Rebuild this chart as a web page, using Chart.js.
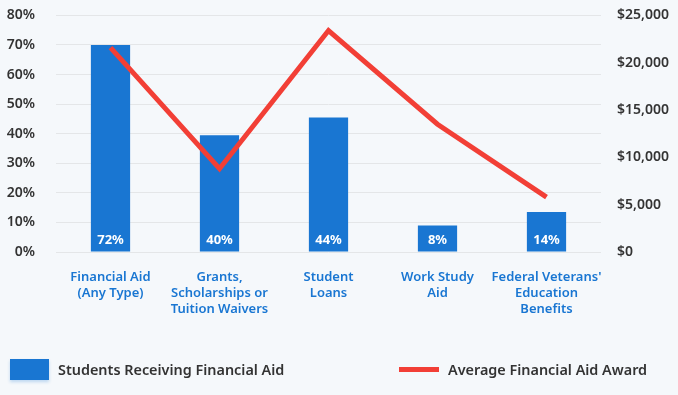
<!DOCTYPE html>
<html>
<head>
<meta charset="utf-8">
<script src="https://cdn.jsdelivr.net/npm/chart.js@4/dist/chart.umd.min.js"></script>
<style>
  html, body { margin: 0; padding: 0; background: #f5f8fb; overflow: hidden; }
  #wrap { position: relative; width: 678px; height: 395px; overflow: hidden; }
  #chart { position: absolute; left: 0; top: -14px; }
  #legend { position: absolute; left: 0; top: 357px; width: 678px; height: 26px;
    font-family: "Noto Sans", "Open Sans", sans-serif; font-weight: 600; font-size: 14.4px; color: #333; }
  .item { position: absolute; top: 0; display: flex; align-items: center; height: 24px; }
  .box { width: 39px; height: 21px; background: #1976d2; margin-right: 9px; box-shadow: 0 2px 3px rgba(25,118,210,0.25); }
  .ln { width: 40px; height: 5px; background: #f23f36; margin-right: 9px; }
</style>
</head>
<body>
<div id="wrap">
  <canvas id="chart" width="678" height="409"></canvas>
  <div id="legend">
    <div class="item" style="left:10px"><span class="box"></span>Students Receiving Financial Aid</div>
    <div class="item" style="left:399px"><span class="ln"></span>Average Financial Aid Award</div>
  </div>
</div>
<script>
// categories and values
const categories = [
  ['Financial Aid', '(Any Type)'],
  ['Grants,', 'Scholarships or', 'Tuition Waivers'],
  ['Student', 'Loans'],
  ['Work Study', 'Aid'],
  ["Federal Veterans'", 'Education', 'Benefits']
];
const studentsPct = [70, 39.5, 45.5, 9, 13.5];
const barLabels = ['72%', '40%', '44%', '8%', '14%'];
const avgAward = [21600, 8800, 23400, 13500, 5800];

const FONT = '"Noto Sans", "Open Sans", sans-serif';

// white labels at the bottom of each bar
const barText = {
  id: 'barText',
  afterDatasetsDraw(chart) {
    const meta = chart.getDatasetMeta(0);
    const ctx = chart.ctx;
    const y0 = chart.scales.y.getPixelForValue(0);
    ctx.save();
    ctx.fillStyle = '#fff';
    ctx.font = 'bold 13px ' + FONT;
    ctx.textAlign = 'center';
    ctx.textBaseline = 'middle';
    meta.data.forEach((bar, i) => {
      ctx.fillText(barLabels[i], bar.x, y0 - 12);
    });
    ctx.restore();
  }
};

new Chart(document.getElementById('chart'), {
  data: {
    labels: categories,
    datasets: [
      {
        type: 'bar',
        label: 'Students Receiving Financial Aid',
        data: studentsPct,
        backgroundColor: '#1976d2',
        yAxisID: 'y',
        order: 1,
        barPercentage: 0.36,
        categoryPercentage: 1
      },
      {
        type: 'line',
        label: 'Average Financial Aid Award',
        data: avgAward,
        borderColor: '#f23f36',
        borderWidth: 5,
        pointRadius: 0,
        tension: 0,
        yAxisID: 'y1',
        order: 0
      }
    ]
  },
  options: {
    responsive: false,
    animation: false,
    layout: { padding: { top: 1, left: 0, right: 0, bottom: 0 } },
    plugins: { legend: { display: false }, tooltip: { enabled: false } },
    scales: {
      x: {
        grid: { display: false },
        border: { display: false },
        ticks: {
          color: '#1976d2',
          font: { family: FONT, size: 13, weight: '600', lineHeight: 1.23 },
          padding: 9,
          maxRotation: 0,
          autoSkip: false
        },
        afterFit(s) { s.height = 143; }
      },
      y: {
        position: 'left',
        min: 0, max: 80,
        ticks: {
          stepSize: 10,
          color: '#333',
          font: { family: FONT, size: 14, weight: '600' },
          padding: 21,
          callback: v => v + '%'
        },
        grid: { color: '#e4e6e8', drawTicks: false },
        border: { display: false },
        afterFit(s) { s.width = 56; }
      },
      y1: {
        position: 'right',
        min: 0, max: 25000,
        ticks: {
          stepSize: 5000,
          color: '#333',
          font: { family: FONT, size: 14, weight: '600' },
          padding: 16,
          callback: v => '$' + v.toLocaleString('en-US')
        },
        grid: { display: false, drawTicks: false },
        border: { display: false },
        afterFit(s) { s.width = 77; }
      }
    }
  },
  plugins: [barText]
});
</script>
</body>
</html>
